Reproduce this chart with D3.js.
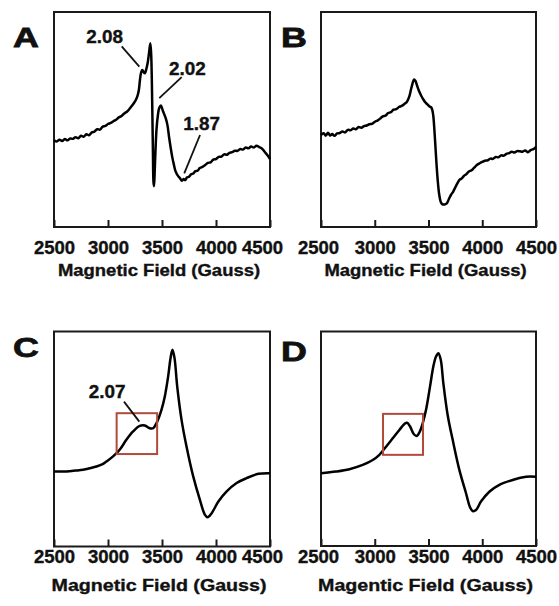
<!DOCTYPE html>
<html>
<head>
<meta charset="utf-8">
<script src="https://cdn.jsdelivr.net/npm/d3@7"></script>
<style>
  body { margin: 0; background: #fff; }
  svg { display: block; }
  text { font-family: "Liberation Sans", Arial, sans-serif; font-weight: bold; fill: #111; stroke: #111; stroke-width: 0.35px; }
</style>
</head>
<body>
<div id="chart"></div>
<script>
// field values (Gauss) and intensities (arbitrary units, 0 = bottom of frame, 100 = top)
var fieldTicks = [2500, 3000, 3500, 4000, 4500];

var specA = [
  [2500,40.4],[2525,39.8],[2550,40.6],[2575,40.0],[2600,40.9],[2625,40.3],[2650,41.2],[2675,41.0],
  [2700,41.8],[2725,41.3],[2750,42.4],[2775,42.0],[2800,43.1],[2825,42.7],[2850,44.0],[2875,44.4],
  [2900,45.5],[2925,45.3],[2950,46.6],[2975,47.0],[3000,47.9],[3025,48.4],[3050,49.2],[3075,49.9],
  [3100,51.0],[3125,51.6],[3150,52.8],[3175,53.6],[3200,55.0],[3225,56.6],[3250,58.4],[3270,60.5],
  [3285,63.5],[3295,68.0],[3305,71.5],[3318,73.0],[3330,72.0],[3342,71.5],[3355,73.5],[3368,76.5],
  [3380,81.0],[3392,85.5],[3400,80.0],[3406,68.0],[3411,52.0],[3416,35.0],[3421,21.0],[3426,19.0],
  [3432,25.0],[3440,36.0],[3450,46.0],[3462,52.0],[3475,55.5],[3490,56.5],[3505,54.5],[3520,52.5],
  [3535,50.5],[3550,47.5],[3565,42.0],[3580,37.0],[3595,32.5],[3610,29.0],[3625,26.0],[3645,24.0],
  [3665,22.8],[3685,21.5],[3700,22.3],[3715,21.8],[3730,23.0],[3750,23.4],[3770,24.5],[3790,24.9],
  [3810,26.0],[3830,26.2],[3850,27.4],[3875,28.0],[3900,28.8],[3925,29.8],[3950,30.1],[3975,31.3],
  [4000,31.6],[4025,32.6],[4050,32.7],[4075,33.8],[4100,33.6],[4125,34.5],[4150,34.8],[4175,35.5],
  [4200,35.4],[4225,36.3],[4250,36.0],[4275,37.0],[4300,36.6],[4325,37.4],[4350,37.0],[4375,37.8],
  [4400,37.2],[4425,36.5],[4450,35.0],[4475,33.5],[4500,31.6]
];

var specB = [
  [2500,42.8],[2525,43.6],[2545,42.5],[2565,43.8],[2585,42.6],[2605,43.2],[2625,42.4],[2650,43.5],
  [2675,43.7],[2700,44.4],[2725,44.0],[2750,45.2],[2775,45.0],[2800,45.8],[2825,45.5],[2850,46.5],
  [2875,46.2],[2900,46.9],[2925,47.2],[2950,47.8],[2975,48.0],[3000,48.9],[3025,49.5],[3050,50.4],
  [3075,51.5],[3100,51.8],[3125,53.0],[3150,53.4],[3175,54.6],[3200,54.8],[3225,55.8],[3250,56.3],
  [3275,57.2],[3300,58.3],[3320,60.5],[3335,63.5],[3350,66.5],[3365,68.6],[3378,68.0],[3392,66.0],
  [3410,63.5],[3430,61.3],[3450,59.5],[3470,58.0],[3490,57.0],[3510,56.0],[3525,55.6],[3535,54.5],
  [3545,51.5],[3555,45.0],[3565,37.0],[3575,29.0],[3587,21.0],[3600,15.0],[3615,11.5],[3630,10.5],
  [3650,10.5],[3670,11.0],[3690,13.0],[3710,15.0],[3730,16.5],[3750,18.5],[3770,20.4],[3790,22.0],
  [3810,22.6],[3830,23.8],[3850,24.5],[3875,25.8],[3900,26.4],[3925,27.6],[3950,28.8],[3975,29.6],
  [4000,30.3],[4025,30.8],[4050,31.0],[4075,31.8],[4100,31.7],[4125,32.6],[4150,32.4],[4175,33.3],
  [4200,33.2],[4225,34.0],[4250,34.4],[4275,35.0],[4300,34.6],[4325,35.3],[4350,35.2],[4375,35.0],
  [4400,35.6],[4425,34.8],[4450,35.8],[4475,36.2],[4500,37.3]
];

var specC = [
  [2500,34.9],[2614,34.9],[2700,35.3],[2769,35.7],[2850,36.6],[2893,37.2],[2950,38.3],[2985,39.5],
  [3047,41.9],[3108,45.0],[3170,49.6],[3232,53.5],[3294,56.1],[3341,56.3],[3387,55.0],[3418,55.0],
  [3449,57.4],[3495,63.6],[3526,69.8],[3557,79.1],[3579,87.6],[3597,91.5],[3616,87.6],[3641,74.4],
  [3681,58.9],[3727,46.5],[3789,32.6],[3851,21.7],[3898,14.7],[3922,13.6],[3960,15.5],[4022,20.9],
  [4099,25.6],[4191,29.5],[4284,31.8],[4393,33.8],[4500,34.1]
];

var specD = [
  [2500,33.9],[2640,34.7],[2764,35.8],[2888,37.8],[2981,40.1],[3043,42.5],[3105,46.3],[3167,50.2],
  [3229,54.1],[3276,56.9],[3301,57.5],[3329,55.7],[3364,52.1],[3391,51.3],[3415,52.9],[3446,57.2],
  [3477,63.5],[3514,74.3],[3545,83.7],[3570,88.3],[3592,89.9],[3614,86.8],[3638,75.9],[3678,61.1],
  [3725,49.5],[3787,35.5],[3849,24.6],[3887,18.0],[3911,16.3],[3942,16.8],[3988,20.7],[4066,25.3],
  [4159,28.5],[4283,30.8],[4407,32.3],[4500,32.3]
];

// g-value labels: text anchor point and leader line ends, in (field, intensity)
var gLabelsA = [
  { text: "2.08", at: [2968, 85.7], from: [3127, 84.0], to: [3290, 74.6] },
  { text: "2.02", at: [3736, 70.8], from: [3682, 69.7], to: [3475, 59.9] },
  { text: "1.87", at: [3868, 45.1], from: [3852, 42.8], to: [3706, 24.9] }
];
var gLabelsC = [
  { text: "2.07", at: [2991, 69.2], from: [3148, 67.4], to: [3290, 58.1] }
];

// highlighted region [field0, field1, intensity0, intensity1]
var boxC = [3080, 3455, 43, 62];
var boxD = [3077, 3449, 42.5, 61.6];

var titles = ["Magnetic Field (Gauss)", "Magnetic Field (Gauss)", "Magnetic Field (Gauss)", "Magentic Field (Gauss)"];

var panels = [
  { name: "A", data: specA, labels: gLabelsA, box: null, title: titles[0],
    left: 54, top: 12, right: 270, bottom: 227, tickY: 27, titleY: 276, titleSize: 15.8, letterX: 13, letterY: 47, lastDx: -8, firstDx: 0 },
  { name: "B", data: specB, labels: [], box: null, title: titles[1],
    left: 321, top: 12, right: 536, bottom: 227, tickY: 27, titleY: 276, titleSize: 15.8, letterX: 281, letterY: 47, lastDx: 0, firstDx: -3 },
  { name: "C", data: specC, labels: gLabelsC, box: boxC, title: titles[2],
    left: 54, top: 331.5, right: 270, bottom: 546.5, tickY: 17, titleY: 591, titleSize: 16.8, letterX: 13, letterY: 357, lastDx: -8, firstDx: 0 },
  { name: "D", data: specD, labels: [], box: boxD, title: titles[3],
    left: 321, top: 331.5, right: 536, bottom: 546, tickY: 17, titleY: 591, titleSize: 16.8, letterX: 281, letterY: 361, lastDx: 0, firstDx: -3 }
];

var svg = d3.select("#chart").append("svg")
    .attr("width", 559)
    .attr("height", 606);

panels.forEach(function(p) {
    var x = d3.scaleLinear().domain([2500, 4500]).range([p.left, p.right]);
    var y = d3.scaleLinear().domain([0, 100]).range([p.bottom, p.top]);
    var g = svg.append("g").attr("class", "panel panel-" + p.name);

    // ticks pointing inward
    var xAxis = d3.axisBottom(x)
        .tickValues(fieldTicks)
        .tickFormat(d3.format("d"))
        .tickSize(-7)
        .tickSizeOuter(0)
        .tickPadding(0);

    var ax = g.append("g")
        .attr("transform", "translate(0," + p.bottom + ")")
        .call(xAxis);
    ax.select(".domain").remove();
    ax.selectAll("line").attr("stroke", "#1a1a1a").attr("stroke-width", 2);
    ax.selectAll("text")
        .attr("y", p.tickY)
        .attr("dy", null)
        .attr("fill", "#111")
        .style("font-size", "18px")
        .style("font-family", "'Liberation Sans', Arial, sans-serif")
        .style("font-weight", "bold")
        .attr("transform", function(d) {
            var dx = d === 4500 ? p.lastDx : (d === 2500 ? p.firstDx : 0);
            return "translate(" + dx + ",0) scale(1.03,1)";
        });

    // frame
    g.append("rect")
        .attr("x", p.left)
        .attr("y", p.top)
        .attr("width", p.right - p.left)
        .attr("height", p.bottom - p.top)
        .attr("fill", "none")
        .attr("stroke", "#1a1a1a")
        .attr("stroke-width", 2);

    // spectrum
    var line = d3.line()
        .x(function(d) { return x(d[0]); })
        .y(function(d) { return y(d[1]); })
        .curve(d3.curveCatmullRom.alpha(0.5));

    g.append("path")
        .datum(p.data)
        .attr("d", line)
        .attr("fill", "none")
        .attr("stroke", "#000")
        .attr("stroke-width", 2.5)
        .attr("stroke-linejoin", "round");

    if (p.box) {
        g.append("rect")
            .attr("x", x(p.box[0]))
            .attr("y", y(p.box[3]))
            .attr("width", x(p.box[1]) - x(p.box[0]))
            .attr("height", y(p.box[2]) - y(p.box[3]))
            .attr("fill", "none")
            .attr("stroke", "#b04a3a")
            .attr("stroke-width", 2);
    }

    p.labels.forEach(function(l) {
        g.append("line")
            .attr("x1", x(l.from[0])).attr("y1", y(l.from[1]))
            .attr("x2", x(l.to[0])).attr("y2", y(l.to[1]))
            .attr("stroke", "#111")
            .attr("stroke-width", 1.8);
        g.append("text")
            .attr("transform", "translate(" + x(l.at[0]) + "," + y(l.at[1]) + ") scale(1.08,1)")
            .attr("text-anchor", "middle")
            .style("font-size", "17.5px")
            .text(l.text);
    });

    // axis title
    g.append("text")
        .attr("transform", "translate(" + ((p.left + p.right) / 2 - 3) + "," + p.titleY + ") scale(1.17,1)")
        .attr("text-anchor", "middle")
        .style("font-size", p.titleSize + "px")
        .text(p.title);

    // panel letter
    g.append("text")
        .attr("transform", "translate(" + p.letterX + "," + p.letterY + ") scale(1.28,1)")
        .style("font-size", "28px")
        .style("stroke-width", "0.8px")
        .text(p.name);
});
</script>
</body>
</html>
